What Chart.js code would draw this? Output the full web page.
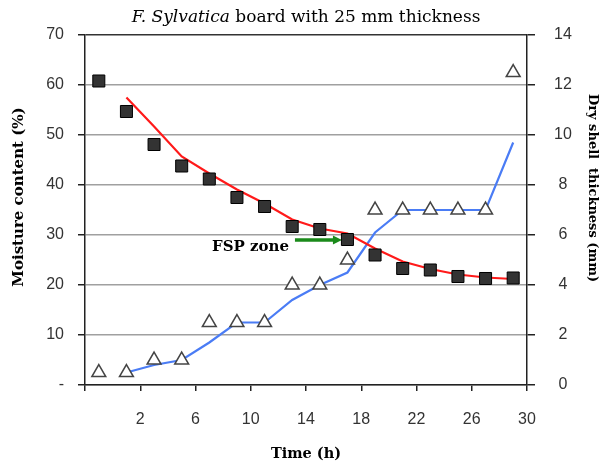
<!DOCTYPE html>
<html>
<head>
<meta charset="utf-8">
<script src="https://cdn.jsdelivr.net/npm/chart.js@4/dist/chart.umd.min.js"></script>
<style>
  body { margin: 0; background: #fff; }
  canvas { display: block; }
</style>
</head>
<body>
<canvas id="chart" width="601" height="468"></canvas>
<script>
// Time (h) of the measured points and of the model curves
const measuredTimes = [-1, 1, 3, 5, 7, 9, 11, 13, 15, 17, 19, 21, 23, 25, 27, 29];
const modelTimes = [1, 3, 5, 7, 9, 11, 13, 15, 17, 19, 21, 23, 25, 27, 29];

// Moisture content (%), left axis
const moistureMeasured = [60.8, 54.7, 48.1, 43.8, 41.2, 37.5, 35.7, 31.7, 31.1, 29.1, 26.0, 23.3, 23.0, 21.7, 21.3, 21.4];
const moistureModel = [57.5, 51.7, 45.7, 42.3, 39.1, 36.3, 33.1, 31.3, 30.3, 27.3, 24.7, 23.2, 22.1, 21.5, 21.2];

// Dry shell thickness (mm), right axis
const shellMeasured = [0.5, 0.5, 1, 1, 2.5, 2.5, 2.5, 4, 4, 5, 7, 7, 7, 7, 7, 12.5];
const shellModel = [0.5, 0.8, 1.0, 1.7, 2.5, 2.5, 3.4, 4.0, 4.5, 6.1, 7.0, 7.0, 7.0, 7.0, 9.7];

// FSP zone arrow (time range, moisture level)
const fspArrow = { from: 13.2, to: 16.6, moisture: 29 };

const toXY = (xs, ys) => xs.map((x, i) => ({ x: x, y: ys[i] }));

const serif = '"DejaVu Serif", "Liberation Serif", serif';
const sans = '"Liberation Sans", Arial, sans-serif';

function rotatedText(ctx, text, x, y, angle, font) {
    ctx.save();
    ctx.translate(x, y);
    ctx.rotate(angle);
    ctx.font = font;
    ctx.textAlign = 'center';
    ctx.textBaseline = 'middle';
    ctx.fillText(text, 0, 0);
    ctx.restore();
}

// Title with italic species name, axis titles, FSP label/arrow
const extras = {
    id: 'extras',
    beforeDatasetsDraw(chart) {
        const ctx = chart.ctx;
        const x = chart.scales.x;
        const y = chart.scales.y;
        const x0 = x.getPixelForValue(fspArrow.from);
        const x1 = x.getPixelForValue(fspArrow.to);
        const yy = y.getPixelForValue(fspArrow.moisture);
        ctx.save();
        ctx.strokeStyle = '#1a8a1a';
        ctx.fillStyle = '#1a8a1a';
        ctx.lineWidth = 3.5;
        ctx.beginPath();
        ctx.moveTo(x0, yy);
        ctx.lineTo(x1 - 7, yy);
        ctx.stroke();
        ctx.beginPath();
        ctx.moveTo(x1, yy);
        ctx.lineTo(x1 - 9, yy - 4.5);
        ctx.lineTo(x1 - 9, yy + 4.5);
        ctx.closePath();
        ctx.fill();

        ctx.fillStyle = '#000';
        ctx.font = 'bold 15px ' + serif;
        ctx.textAlign = 'right';
        ctx.textBaseline = 'middle';
        ctx.fillText('FSP zone', x0 - 6, yy + 7);
        ctx.restore();
    },
    afterDraw(chart) {
        const ctx = chart.ctx;
        const area = chart.chartArea;
        const part1 = 'F. Sylvatica';
        const part2 = ' board with 25 mm thickness';
        ctx.save();
        ctx.fillStyle = '#000';
        ctx.textBaseline = 'alphabetic';
        ctx.textAlign = 'left';
        ctx.font = 'italic 17px ' + serif;
        const w1 = ctx.measureText(part1).width;
        ctx.font = '17px ' + serif;
        const w2 = ctx.measureText(part2).width;
        const start = (area.left + area.right) / 2 - (w1 + w2) / 2;
        ctx.font = 'italic 17px ' + serif;
        ctx.fillText(part1, start, 22);
        ctx.font = '17px ' + serif;
        ctx.fillText(part2, start + w1, 22);

        rotatedText(ctx, 'Moisture content (%)', 19, 197, -Math.PI / 2, 'bold 15px ' + serif);
        rotatedText(ctx, 'Dry shell  thickness (mm)', 592, 188, Math.PI / 2, 'bold 13px ' + serif);
        ctx.restore();
    }
};

new Chart(document.getElementById('chart'), {
    type: 'scatter',
    data: {
        datasets: [
            {
                label: 'Moisture measured',
                data: toXY(measuredTimes, moistureMeasured),
                yAxisID: 'y',
                pointStyle: 'rect',
                pointRadius: 8.5,
                backgroundColor: '#333333',
                borderColor: '#000000',
                borderWidth: 1,
                showLine: false
            },
            {
                label: 'Shell measured',
                data: toXY(measuredTimes, shellMeasured),
                yAxisID: 'y1',
                pointStyle: 'triangle',
                pointRadius: 8,
                backgroundColor: '#ffffff',
                borderColor: '#444444',
                borderWidth: 1.5,
                showLine: false
            },
            {
                label: 'Moisture model',
                data: toXY(modelTimes, moistureModel),
                yAxisID: 'y',
                showLine: true,
                borderColor: '#ff1a1a',
                borderWidth: 2.2,
                pointRadius: 0,
                tension: 0
            },
            {
                label: 'Shell model',
                data: toXY(modelTimes, shellModel),
                yAxisID: 'y1',
                showLine: true,
                borderColor: '#4a7cf5',
                borderWidth: 2.2,
                pointRadius: 0,
                tension: 0
            }
        ]
    },
    options: {
        responsive: false,
        animation: false,
        layout: { padding: { top: 35, left: 0, right: 0, bottom: 0 } },
        plugins: {
            legend: { display: false },
            tooltip: { enabled: false }
        },
        scales: {
            x: {
                type: 'linear',
                min: -2,
                max: 30,
                afterFit: (s) => { s.height = 83; },
                ticks: {
                    stepSize: 4,
                    color: '#333',
                    padding: 19,
                    maxRotation: 0,
                    font: { family: sans, size: 16 },
                    callback: (v) => (v < 0 ? '' : v)
                },
                grid: { drawOnChartArea: false, tickLength: 6, tickColor: '#222', lineWidth: 1.5 },
                border: { color: '#222', width: 1.5 },
                title: {
                    display: true,
                    text: 'Time (h)',
                    color: '#000',
                    font: { family: serif, size: 14.5, weight: 'bold' },
                    padding: { top: 0, bottom: 5 }
                }
            },
            y: {
                position: 'left',
                min: 0,
                max: 70,
                afterFit: (s) => { s.width = 85; },
                ticks: {
                    stepSize: 10,
                    color: '#333',
                    padding: 14,
                    font: { family: sans, size: 16 },
                    callback: (v) => (v === 0 ? '-' : v)
                },
                grid: {
                    color: (c) => (c.tick && c.tick.value === 70 ? '#333' : '#a0a0a0'),
                    lineWidth: 1.5,
                    tickLength: 7,
                    tickColor: '#222'
                },
                border: { color: '#222', width: 1.5 }
            },
            y1: {
                position: 'right',
                min: 0,
                max: 14,
                afterFit: (s) => { s.width = 74; },
                ticks: {
                    stepSize: 2,
                    color: '#333',
                    padding: 19,
                    crossAlign: 'center',
                    font: { family: sans, size: 16 }
                },
                grid: { drawOnChartArea: false, tickLength: 8, tickColor: '#222', lineWidth: 1.5 },
                border: { color: '#222', width: 1.5 }
            }
        }
    },
    plugins: [extras]
});
</script>
</body>
</html>
